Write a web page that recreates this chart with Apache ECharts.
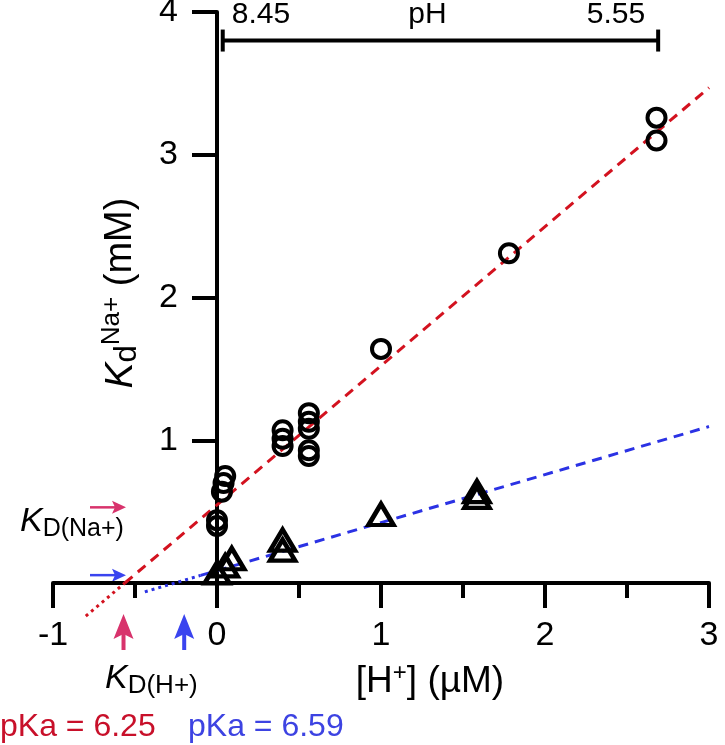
<!DOCTYPE html>
<html><head><meta charset="utf-8">
<script src="https://cdn.jsdelivr.net/npm/echarts@6/dist/echarts.min.js"></script>
<style>html,body{margin:0;padding:0;background:#fff}#c{width:725px;height:745px}</style>
</head><body><div id="c"></div>
<script>
// ---- data ----
const xTicks = [-1, 0, 1, 2, 3];
const xTickLabels = ['-1', '0', '1', '2', '3'];
const yTicks = [1, 2, 3, 4];
const yTickLabels = ['1', '2', '3', '4'];

// Kd Na+ (open circles)
const circleX = [0.05, 0.04, 0.03, 0.00, 0.00, 0.40, 0.40, 0.40, 0.56, 0.56, 0.56, 0.56, 0.56, 1.00, 1.78, 2.68, 2.68];
const circleY = [0.75, 0.70, 0.64, 0.44, 0.40, 1.07, 1.01, 0.96, 1.19, 1.13, 1.08, 0.93, 0.89, 1.64, 2.31, 3.26, 3.10];
// open triangles
const triX = [0.00, 0.05, 0.09, 0.40, 0.40, 1.00, 1.585, 1.585];
const triY = [0.07, 0.12, 0.17, 0.30, 0.23, 0.48, 0.64, 0.60];

// fitted lines (end points)
const redFitX = [-0.562, 3.0];
const redFitY = [0, 3.47];
const redExtX = [-0.80, -0.562];
const redExtY = [-0.232, 0];
const blueFitX = [-0.10, 3.0];
const blueFitY = [0.053, 1.096];
const blueExtX = [-0.44, -0.10];
const blueExtY = [-0.062, 0.053];

// pH bracket
const phX = [0.035, 2.69];
const phY = [3.80, 3.80];
const phLabels = ['8.45', 'pH', '5.55'];

// KD arrows
const kdHArrowX = [-0.57, -0.20];
const kdNaArrowY = [0.53, 0.055];
const pKaTexts = ['pKa = 6.25', 'pKa = 6.59'];

// ---- chart ----
const FONT = "'Liberation Sans', Helvetica, Arial, sans-serif";
const RED_LINE = '#d3121f', BLUE_LINE = '#2b32e4';
const RED_ARROW = '#d8336c', BLUE_ARROW = '#3a44ef';
const RED_TEXT = '#c8102a', BLUE_TEXT = '#3d43e2';
const zip = (a, b) => a.map((v, i) => [v, b[i]]);
const chart = echarts.init(document.getElementById('c'), null, {renderer: 'canvas'});

function lineSeries(x, y, color, dash) {
  return {type: 'line', data: zip(x, y), symbol: 'none', clip: false, silent: true, z: 2,
    lineStyle: {color: color, width: 3, type: dash}};
}

const option = {
  animation: false,
  backgroundColor: '#fff',
  grid: {left: 53, right: 16, top: 12, bottom: 162, containLabel: false, outerBoundsMode: 'none'},
  xAxis: {
    type: 'value', min: -1, max: 3, interval: 1, splitLine: {show: false},
    axisLine: {show: true, onZero: true, lineStyle: {color: '#000', width: 4}},
    axisTick: {show: true, length: 25, lineStyle: {color: '#000', width: 4}},
    minorTick: {show: true, splitNumber: 2, length: 15, lineStyle: {color: '#000', width: 4}},
    axisLabel: {show: true, showMinLabel: true, showMaxLabel: true, fontSize: 34, color: '#000', fontFamily: FONT, margin: 36,
      formatter: v => { const i = xTicks.indexOf(v); return i >= 0 ? xTickLabels[i] : ''; }}
  },
  yAxis: {
    type: 'value', min: 0, max: 4, interval: 1, splitLine: {show: false},
    axisLine: {show: true, onZero: false, lineStyle: {color: '#000', width: 4}},
    axisTick: {show: true, length: 25, lineStyle: {color: '#000', width: 4}},
    axisLabel: {show: true, showMaxLabel: true, fontSize: 34, color: '#000', fontFamily: FONT, margin: 39,
      padding: [8, 0, 0, 0],
      formatter: v => { const i = yTicks.indexOf(v); return i >= 0 ? yTickLabels[i] : ''; }}
  },
  series: [
    lineSeries(redExtX, redExtY, RED_LINE, [3, 4]),
    lineSeries(redFitX, redFitY, RED_LINE, [10, 7]),
    lineSeries(blueExtX, blueExtY, BLUE_LINE, [3, 4]),
    lineSeries(blueFitX, blueFitY, BLUE_LINE, [10, 7]),
    {type: 'line', data: zip(phX, phY), symbol: 'rect', symbolSize: [4, 22], clip: false, silent: true,
      itemStyle: {color: '#000'}, lineStyle: {color: '#000', width: 4}},
    {type: 'scatter', data: zip(circleX, circleY), symbol: 'circle', symbolSize: 18, z: 5, silent: true,
      itemStyle: {color: 'rgba(0,0,0,0)', borderColor: '#000', borderWidth: 4, opacity: 1}},
    {type: 'scatter', data: zip(triX, triY), symbol: 'triangle', symbolSize: [25, 21], z: 5, silent: true,
      itemStyle: {color: 'rgba(0,0,0,0)', borderColor: '#000', borderWidth: 4.5, opacity: 1}}
  ]
};
chart.setOption(option);

const px = (x, y) => chart.convertToPixel({gridIndex: 0}, [x, y]);
// place the y axis (line, ticks and labels together) at x = 0
const gridLeft = px(-1, 0)[0];
chart.setOption({yAxis: {offset: -(px(0, 0)[0] - gridLeft)}});

function upArrow(x, color) {
  return {type: 'group', children: [
    {type: 'line', shape: {x1: x, y1: 632, x2: x, y2: 650}, style: {stroke: color, lineWidth: 4}},
    {type: 'polygon', shape: {points: [[x, 614], [x - 10, 639], [x, 634], [x + 10, 639]]}, style: {fill: color}}
  ]};
}
function rightArrow(y, color) {
  return {type: 'group', children: [
    {type: 'line', shape: {x1: 90, y1: y, x2: 118, y2: y}, style: {stroke: color, lineWidth: 2.5}},
    {type: 'polygon', shape: {points: [[126, y], [112, y - 6.5], [115, y], [112, y + 6.5]]}, style: {fill: color}}
  ]};
}

const left = px(phX[0], phY[0]), right = px(phX[1], phY[1]);
const graphics = [
  upArrow(px(kdHArrowX[0], 0)[0], RED_ARROW),
  upArrow(px(kdHArrowX[1], 0)[0], BLUE_ARROW),
  rightArrow(px(0, kdNaArrowY[0])[1], RED_ARROW),
  rightArrow(px(0, kdNaArrowY[1])[1], BLUE_ARROW),
  {type: 'text', x: left[0] + 9, y: 15, style: {text: phLabels[0], font: '30px ' + FONT, fill: '#000', textAlign: 'left', textVerticalAlign: 'middle'}},
  {type: 'text', x: (left[0] + right[0]) / 2 - 13, y: 15, style: {text: phLabels[1], font: '30px ' + FONT, fill: '#000', textAlign: 'center', textVerticalAlign: 'middle'}},
  {type: 'text', x: right[0] - 13, y: 15, style: {text: phLabels[2], font: '30px ' + FONT, fill: '#000', textAlign: 'right', textVerticalAlign: 'middle'}},
  // y axis title
  {type: 'text', x: 121, y: 293, rotation: Math.PI / 2, style: {
    text: '{k|K}{d|d}{s|Na+}{n| (mM)}', textAlign: 'center', textVerticalAlign: 'middle', fill: '#000',
    rich: {
      k: {fontSize: 39, fontStyle: 'italic', fontFamily: FONT, lineHeight: 44, fill: '#000'},
      d: {fontSize: 31, fontFamily: FONT, lineHeight: 31, verticalAlign: 'bottom', fill: '#000'},
      s: {fontSize: 26, fontFamily: FONT, lineHeight: 24, verticalAlign: 'top', fill: '#000'},
      n: {fontSize: 38, fontFamily: FONT, lineHeight: 44, fill: '#000'}
    }}},
  // x axis title
  {type: 'text', x: 430, y: 682, style: {
    text: '{n|[H}{s|+}{n|] (µM)}', textAlign: 'center', textVerticalAlign: 'middle', fill: '#000',
    rich: {
      n: {fontSize: 37, fontFamily: FONT, lineHeight: 42, fill: '#000'},
      s: {fontSize: 24, fontFamily: FONT, lineHeight: 24, verticalAlign: 'top', fill: '#000'}
    }}},
  // K_D(H+)
  {type: 'text', x: 105, y: 679, style: {
    text: '{k|K}{d|D(H+)}', textAlign: 'left', textVerticalAlign: 'middle', fill: '#000',
    rich: {
      k: {fontSize: 34, fontStyle: 'italic', fontFamily: FONT, lineHeight: 40, fill: '#000'},
      d: {fontSize: 26, fontFamily: FONT, lineHeight: 16, verticalAlign: 'bottom', fill: '#000'}
    }}},
  // K_D(Na+)
  {type: 'text', x: 20, y: 522, style: {
    text: '{k|K}{d|D(Na+)}', textAlign: 'left', textVerticalAlign: 'middle', fill: '#000',
    rich: {
      k: {fontSize: 34, fontStyle: 'italic', fontFamily: FONT, lineHeight: 40, fill: '#000'},
      d: {fontSize: 25, fontFamily: FONT, lineHeight: 16, verticalAlign: 'bottom', fill: '#000'}
    }}},
  {type: 'text', x: 0, y: 727, style: {text: pKaTexts[0], font: '32px ' + FONT, fill: RED_TEXT, textAlign: 'left', textVerticalAlign: 'middle'}},
  {type: 'text', x: 188, y: 727, style: {text: pKaTexts[1], font: '32px ' + FONT, fill: BLUE_TEXT, textAlign: 'left', textVerticalAlign: 'middle'}}
];
chart.setOption({graphic: graphics});
</script>
</body></html>
